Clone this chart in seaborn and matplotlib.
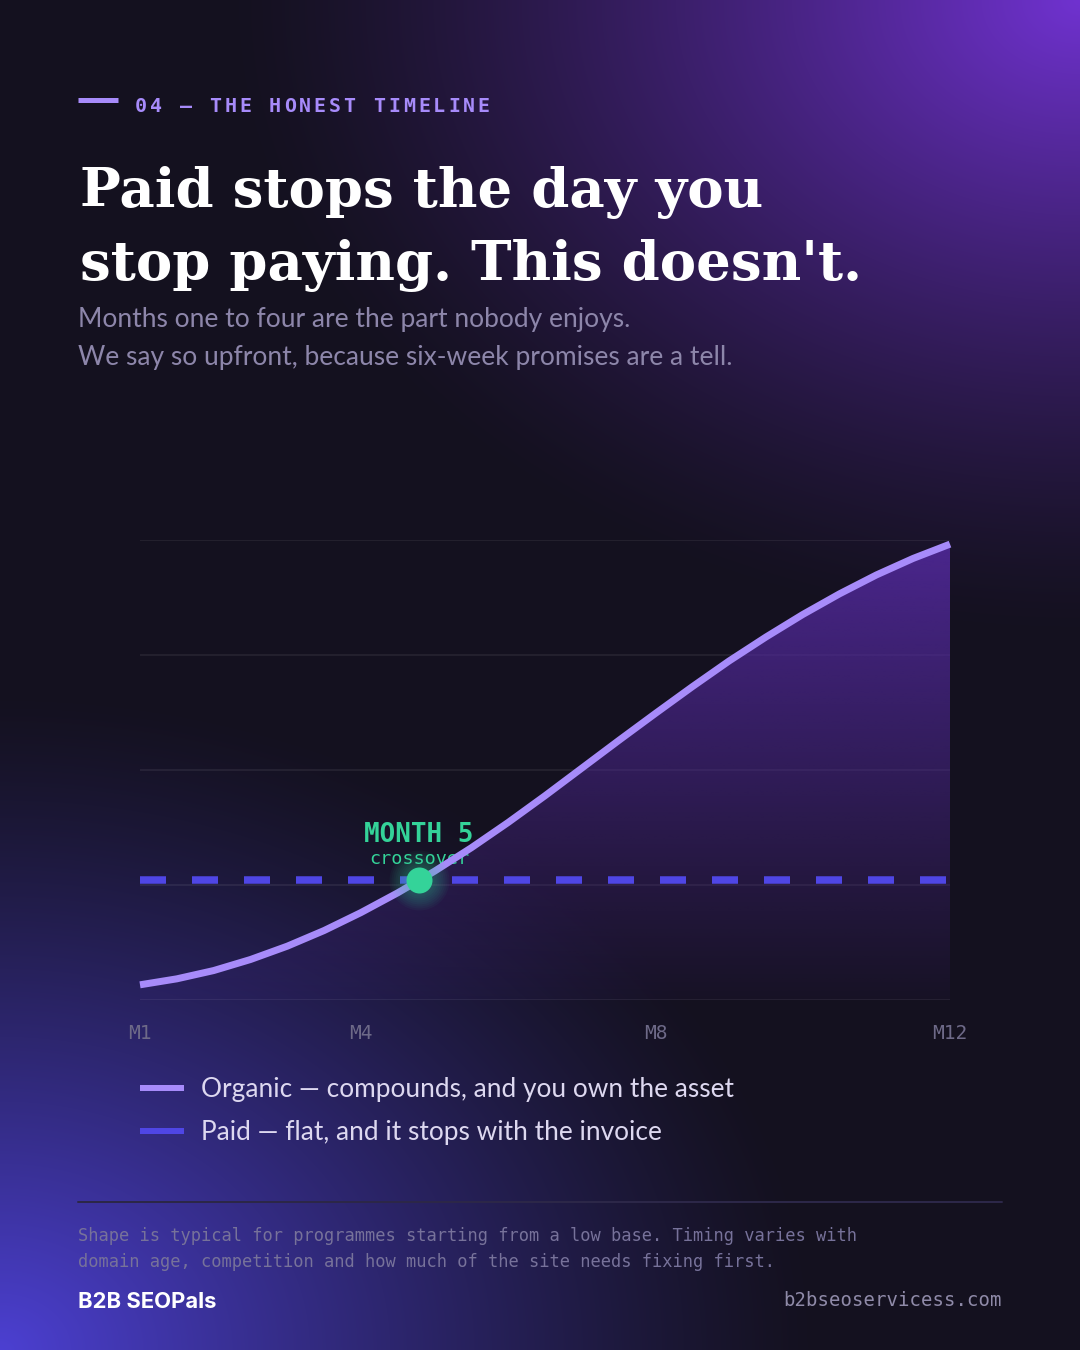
import numpy as np
import pandas as pd
import seaborn as sns
import matplotlib.pyplot as plt
from matplotlib.lines import Line2D

# data (organic read every half month)
organic_months = [1, 1.5, 2, 2.5, 3, 3.5, 4, 4.5, 5, 5.5, 6, 6.5,
                  7, 7.5, 8, 8.5, 9, 9.5, 10, 10.5, 11, 11.5, 12]
organic = [3.3, 4.6, 6.4, 8.8, 11.7, 15.1, 19.0, 23.3, 28.0, 33.1, 38.6, 44.4,
           50.4, 56.4, 62.3, 68.1, 73.7, 78.9, 83.8, 88.3, 92.4, 96.0, 99.1]
paid_months = [1, 12]
paid = [26, 26]
tick_months = [1, 4, 8, 12]
tick_labels = ['M1', 'M4', 'M8', 'M12']
grid_levels = [0, 25, 50, 75, 100]

header = '04 — THE HONEST TIMELINE'
title_lines = ['Paid stops the day you', "stop paying. This doesn't."]
subtitle_lines = ['Months one to four are the part nobody enjoys.',
                  'We say so upfront, because six-week promises are a tell.']
legend_labels = ['Organic — compounds, and you own the asset',
                 'Paid — flat, and it stops with the invoice']
foot_lines = ['Shape is typical for programmes starting from a low base. Timing varies with',
              'domain age, competition and how much of the site needs fixing first.']
brand = 'B2B SEOPals'
site = 'b2bseoservicess.com'

ORGANIC = '#a78bfa'
PAID = '#4f46e5'
GREEN = '#34d399'

W, H = 1080, 1350
PT = 0.72  # px -> pt at dpi 100

sns.set_theme(style='dark')
plt.rcParams['font.family'] = ['DejaVu Sans']
plt.rcParams['lines.scale_dashes'] = False

fig = plt.figure(figsize=(W / 100, H / 100), dpi=100)
bg = fig.add_axes([0, 0, 1, 1])
bg.set_xlim(0, W)
bg.set_ylim(H, 0)
bg.axis('off')

# background: dark base with two purple glows
yy, xx = np.mgrid[0:H, 0:W]
base = np.array([20, 17, 31]) / 255
img = np.ones((H, W, 3)) * base


def glow(cx, cy, rx, ry, col, power):
    d = np.sqrt(((xx - cx) / rx) ** 2 + ((yy - cy) / ry) ** 2)
    w = np.clip(1 - d, 0, 1) ** power
    return w[..., None] * (np.array(col) / 255 - base)


img += glow(1080, 0, 860, 640, (112, 50, 208), 1.35)
img += glow(0, 1350, 820, 660, (76, 64, 210), 1.25)
bg.imshow(np.clip(img, 0, 1), extent=[0, W, H, 0], aspect='auto', zorder=0)

# header
bg.plot([78, 118], [100, 100], color=ORGANIC, lw=5 * PT, solid_capstyle='butt')
for i, ch in enumerate(header):
    bg.text(135 + i * 14.9, 106, ch, ha='left', va='center', color=ORGANIC,
            family='DejaVu Sans Mono', weight='bold', fontsize=20 * PT)

# title
renderer = fig.canvas.get_renderer()
t2 = bg.text(80, 280, title_lines[1], ha='left', va='baseline', color='white',
             family='DejaVu Serif', weight='bold', fontsize=60 * PT)
w = t2.get_window_extent(renderer=renderer).width
fs = 60 * PT * 782 / w
t2.set_fontsize(fs)
bg.text(80, 207, title_lines[0], ha='left', va='baseline', color='white',
        family='DejaVu Serif', weight='bold', fontsize=fs)

for i, s in enumerate(subtitle_lines):
    bg.text(78, 320 + i * 38, s, ha='left', va='center', color='#8d86aa',
            family='Lato', fontsize=26.4 * PT)

# chart
ax = fig.add_axes([140 / W, (H - 1000) / H, 810 / W, 460 / H])
ax.set_facecolor('none')
df_org = pd.DataFrame({'month': organic_months, 'value': organic})
df_paid = pd.DataFrame({'month': paid_months, 'value': paid})

ax.set_xlim(1, 12)
ax.set_ylim(0, 100)
ax.grid(False)
ax.hlines(grid_levels, 1, 12, color='white', alpha=0.08, lw=1.2, zorder=1)
for sp in ax.spines.values():
    sp.set_visible(False)

# gradient fill under organic
poly = ax.fill_between(df_org['month'], df_org['value'], 0, facecolor='none', edgecolor='none')
grad = np.zeros((200, 2, 4))
grad[..., 0] = 84 / 255
grad[..., 1] = 42 / 255
grad[..., 2] = 160 / 255
grad[..., 3] = np.linspace(0.85, 0.05, 200)[:, None]
im = ax.imshow(grad, extent=[1, 12, 0, 100], aspect='auto', origin='upper', zorder=1)
im.set_clip_path(poly.get_paths()[0], ax.transData)

sns.lineplot(data=df_paid, x='month', y='value', color=PAID, lw=7.5 * PT, ax=ax,
             linestyle=(0, (26 * PT, 26 * PT)), dash_capstyle='butt', clip_on=False, zorder=3)
sns.lineplot(data=df_org, x='month', y='value', color=ORGANIC, lw=7 * PT, ax=ax,
             solid_capstyle='butt', solid_joinstyle='round', clip_on=False, zorder=4)

# crossover point from the data
org = np.array(organic, float)
paid_level = np.interp(organic_months, paid_months, paid)
i = int(np.where(np.diff(np.sign(org - paid_level)) != 0)[0][0])
xc = organic_months[i] + (paid_level[i] - org[i]) / (org[i + 1] - org[i]) * (organic_months[i + 1] - organic_months[i])
yc = paid_level[i]
for r in np.linspace(30, 14, 9):
    ax.scatter([xc], [yc], s=(2 * r * PT) ** 2, color=GREEN, alpha=0.045, lw=0, zorder=5, clip_on=False)
sns.scatterplot(x=[xc], y=[yc], s=(26 * PT) ** 2, color=GREEN, linewidth=0, ax=ax,
                zorder=6, clip_on=False)

ax.annotate('MONTH 5', (xc, yc), xytext=(0, 45 * PT), textcoords='offset points',
            ha='center', va='center', color=GREEN, family='DejaVu Sans Mono',
            weight='bold', fontsize=26 * PT, zorder=2)
ax.annotate('crossover', (xc, yc), xytext=(0, 21 * PT), textcoords='offset points',
            ha='center', va='center', color=GREEN, family='DejaVu Sans Mono',
            fontsize=18.5 * PT, zorder=2)

ax.set_xticks(tick_months)
ax.set_xticklabels(tick_labels, family='DejaVu Sans Mono', fontsize=19.5 * PT, color='#6e6a88')
ax.set_yticks([])
ax.tick_params(axis='x', length=0, pad=24 * PT)
ax.set_xlabel('')
ax.set_ylabel('')

handles = [Line2D([], [], color=ORGANIC, lw=6 * PT, solid_capstyle='butt'),
           Line2D([], [], color=PAID, lw=6 * PT, solid_capstyle='butt')]
leg = fig.legend(handles, legend_labels, loc='upper left',
                 bbox_to_anchor=(140 / W, (H - 1077) / H), frameon=False,
                 prop={'family': 'Lato', 'size': 26.2 * PT}, handlelength=1.68,
                 handletextpad=0.65, labelspacing=0.7, borderpad=0, borderaxespad=0)
for t in leg.get_texts():
    t.set_color('#ddd8f0')

# footer
bg.plot([78, 1002], [1202, 1202], color='#2c2748', lw=2 * PT)
for i, s in enumerate(foot_lines):
    bg.text(78, 1236 + i * 26, s, ha='left', va='center', color='#77729a',
            family='DejaVu Sans Mono', fontsize=17.0 * PT)
bg.text(78, 1302, brand, ha='left', va='center', color='white',
        family='Inter', weight='bold', fontsize=22 * PT)
bg.text(1002, 1301, site, ha='right', va='center', color='#8f8aa8',
        family='DejaVu Sans Mono', fontsize=19 * PT)

fig.savefig('out.png', dpi=100, facecolor=fig.get_facecolor())
